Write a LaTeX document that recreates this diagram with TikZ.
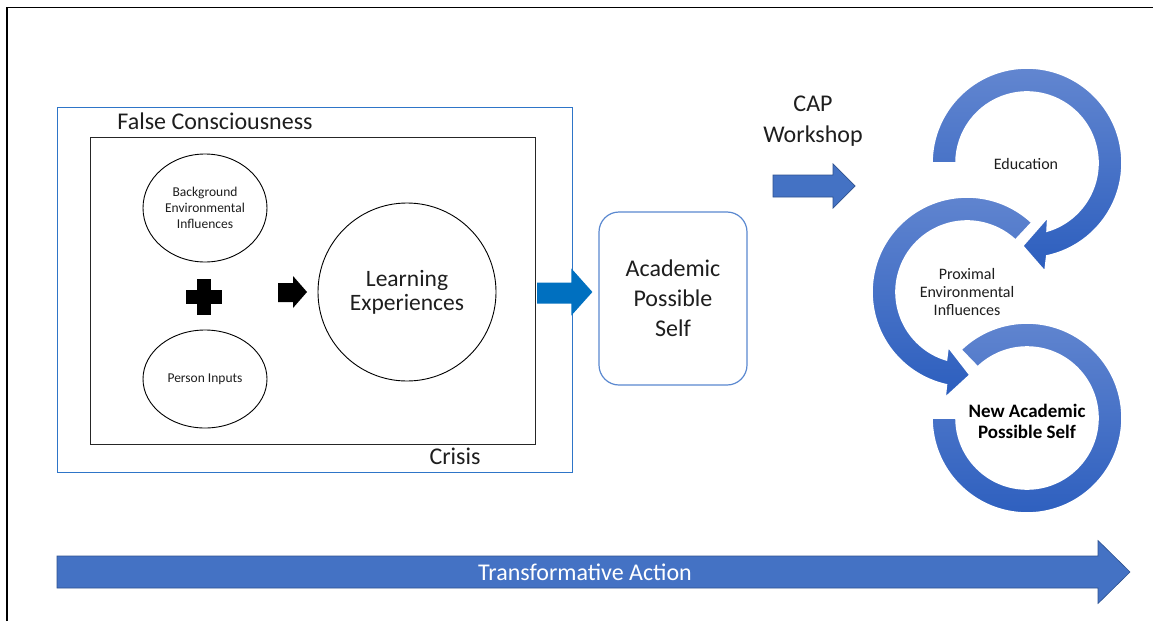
\documentclass[tikz,border=0pt]{standalone}
\usepackage{fontspec}
\setmainfont{Carlito}
\usetikzlibrary{calc,shapes.geometric}

\definecolor{boxblue}{RGB}{46,117,200}
\definecolor{apsblue}{RGB}{90,136,208}
\definecolor{darkarrow}{RGB}{0,112,192}
\definecolor{accent}{RGB}{68,114,196}
\definecolor{accentline}{RGB}{47,82,143}
\definecolor{ringtop}{RGB}{98,134,208}
\definecolor{ringbottom}{RGB}{44,94,190}
\definecolor{textgrey}{RGB}{30,30,30}

% horizontal block arrow: style, tail, tip, shaft half-width, head half-width, head length
\newcommand{\blockarrow}[6]{%
  \path[#1] let \p1=(#2), \p2=(#3) in
    (\x1,\y1+#4) -- (\x2-#6,\y1+#4) -- (\x2-#6,\y2+#5) -- (\x2,\y2)
    -- (\x2-#6,\y2-#5) -- (\x2-#6,\y1-#4) -- (\x1,\y1-#4) -- cycle;}

% circular band with an optional arrowhead
% centre, start angle, end angle (outer), end angle (inner)
\newcommand{\ringarrow}[9]{%
  % #1 centre, #2 start angle, #3 outer end angle, #4 inner end angle,
  % #5 head outer corner (angle:radius), #6 tip, #7 head inner corner
  \path[ring] ($(#1)+(#2:95)$) arc[start angle=#2, end angle=#3, radius=95]
    -- ($(#1)+(#5)$) -- ($(#1)+(#6)$) -- ($(#1)+(#7)$)
    -- ($(#1)+(#4:71)$) arc[start angle=#4, end angle=#2, radius=71] -- cycle;}

\tikzset{
  bigtext/.style={font=\fontsize{24}{30}\selectfont, text=textgrey, align=center},
  smalltext/.style={font=\fontsize{13.5}{16}\selectfont, text=textgrey, align=center},
  ringtext/.style={font=\fontsize{16}{18}\selectfont, text=textgrey, align=center},
  bubble/.style={draw=black, line width=0.9, ellipse, minimum width=124, minimum height=104, inner sep=0},
  ring/.style={top color=ringtop, bottom color=ringbottom, draw=white, line width=1.6},
}

\begin{document}
\begin{tikzpicture}[x=1pt,y=1pt]
\useasboundingbox (0,0) rectangle (1153,-621);
\fill[white] (0,0) rectangle (1153,-621);

% page frame
\draw[line width=1.8] (7,-621) -- (7,-7.5) -- (1153,-7.5);

% left block
\node[draw=boxblue, line width=1.4, minimum width=515, minimum height=365, anchor=north west, inner sep=0] (outer) at (57,-107) {};
\node[draw=black!85, line width=1.2, minimum width=445, minimum height=307, anchor=north west, inner sep=0] (inner) at (90,-137) {};
\node[bigtext, anchor=base] (fc) at (215,-129) {False Consciousness};
\node[bigtext, anchor=base] (crisis) at (455,-464) {Crisis};

\node[bubble, minimum height=108] (bg) at (205,-208) {};
\node[smalltext] at (bg) {Background\\Environmental\\Influences};
\node[bubble, minimum height=98] (pi) at (205,-379) {};
\node[smalltext] at (pi) {Person Inputs};

% plus sign
\coordinate (plus) at (204,-297);
\fill ($(plus)+(-18,-7)$) rectangle ($(plus)+(18,7)$);
\fill ($(plus)+(-7,-18)$) rectangle ($(plus)+(7,18)$);

\node[draw=black, line width=0.9, circle, minimum size=178, inner sep=0] (le) at (407,-292) {};
\node[bigtext, font=\fontsize{23.5}{24}\selectfont] at (le) {Learning\\Experiences};

% black arrow into the learning circle
\coordinate (ka1) at (278,-292.5);
\coordinate (ka2) at (307,-292);
\blockarrow{fill=black}{ka1}{ka2}{9.5}{16}{14}

% academic possible self
\node[draw=apsblue, line width=1.2, rounded corners=20, minimum width=148, minimum height=173, inner sep=0] (aps) at (673,-298.5) {};
\node[bigtext] at (aps) {Academic\\Possible\\Self};

\coordinate (ba1) at ($(inner.east)+(1,-2)$);
\coordinate (ba2) at ($(aps.west)+(-6,6.5)$);
\blockarrow{fill=darkarrow}{ba1}{ba2}{10.5}{23.5}{21}

% CAP workshop
\node[bigtext, font=\fontsize{24}{31}\selectfont] (cap) at (813,-121) {CAP\\Workshop};
\coordinate (ca1) at (773,-186);
\coordinate (ca2) at (855,-186);
\blockarrow{fill=accent, draw=accentline, line width=0.7}{ca1}{ca2}{11}{22}{22}

% circular arrows
\coordinate (r3) at (1027,-418);
\path[ring] ($(r3)+(134:95)$) arc[start angle=134, end angle=-180, radius=95]
  -- ($(r3)+(180:71)$) arc[start angle=180, end angle=494, radius=71] -- cycle;
\coordinate (r2) at (967,-292);
\ringarrow{r2}{47}{257.5}{253.2}{258.3:108}{272:83}{251:58}{}{}
\coordinate (r1) at (1027,-163);
\ringarrow{r1}{180}{-78}{-73.6}{-80.6:110}{-93:83}{-69:58}{}{}

\node[ringtext] (edu) at (1026,-164) {Education};
\node[ringtext] (prox) at (967,-292) {Proximal\\Environmental\\Influences};
\node[ringtext, font=\bfseries\fontsize{19}{21}\selectfont, text=black] (naps) at (1027,-421) {New Academic\\Possible Self};

% transformative action
\coordinate (ta1) at (57,-572);
\coordinate (ta2) at (1130,-572);
\blockarrow{fill=accent, draw=accentline, line width=0.6}{ta1}{ta2}{16}{31.5}{32}
\node[font=\fontsize{24}{24}\selectfont, text=white] (tan) at (585,-572) {Transformative Action};
\end{tikzpicture}
\end{document}
